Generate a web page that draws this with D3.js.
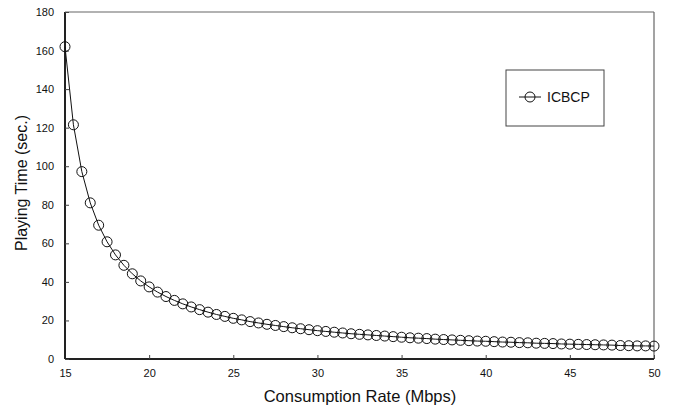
<!DOCTYPE html>
<html><head><meta charset="utf-8">
<script src="https://cdn.jsdelivr.net/npm/d3@7"></script>
<style>
body{margin:0;background:#fff;}
svg{display:block;}
text{font-family:"Liberation Sans","DejaVu Sans",sans-serif;fill:#111;}
</style></head>
<body><svg id="c" width="675" height="412"></svg>
<script>
const rates = [15,15.5,16,16.5,17,17.5,18,18.5,19,19.5,20,20.5,21,21.5,22,22.5,23,23.5,24,24.5,25,25.5,26,26.5,27,27.5,28,28.5,29,29.5,30,30.5,31,31.5,32,32.5,33,33.5,34,34.5,35,35.5,36,36.5,37,37.5,38,38.5,39,39.5,40,40.5,41,41.5,42,42.5,43,43.5,44,44.5,45,45.5,46,46.5,47,47.5,48,48.5,49,49.5,50];
const playTime = [162.0,121.5,97.2,81.0,69.4,60.8,54.0,48.6,44.2,40.5,37.4,34.7,32.4,30.4,28.6,27.0,25.6,24.3,23.1,22.1,21.1,20.3,19.4,18.7,18.0,17.4,16.8,16.2,15.7,15.2,14.7,14.3,13.9,13.5,13.1,12.8,12.5,12.2,11.9,11.6,11.3,11.0,10.8,10.6,10.3,10.1,9.9,9.7,9.5,9.3,9.2,9.0,8.8,8.7,8.5,8.4,8.2,8.1,8.0,7.8,7.7,7.6,7.5,7.4,7.3,7.2,7.0,6.9,6.8,6.8,6.7];
const xTicks = [15,20,25,30,35,40,45,50];
const yTicks = [0,20,40,60,80,100,120,140,160,180];
const seriesName = "ICBCP";

const svg = d3.select("#c");
const L=65, R=654, T=12, B=359;
const x = d3.scaleLinear().domain([15,50]).range([L,R]);
const y = d3.scaleLinear().domain([0,180]).range([B,T]);

// top & right frame
svg.append("line").attr("x1",L).attr("x2",R).attr("y1",T).attr("y2",T).attr("stroke","#666").attr("stroke-width",1.2);
svg.append("line").attr("x1",R).attr("x2",R).attr("y1",T).attr("y2",B).attr("stroke","#666").attr("stroke-width",1.2);

// axes
const xa = svg.append("g").attr("transform",`translate(0,${B})`)
  .call(d3.axisBottom(x).tickValues(xTicks).tickSize(-4).tickPadding(10).tickFormat(d3.format("d")));
const ya = svg.append("g").attr("transform",`translate(${L},0)`)
  .call(d3.axisLeft(y).tickValues(yTicks).tickSize(-4).tickPadding(11).tickFormat(d3.format("d")));
[xa,ya].forEach(g=>{
  g.select(".domain").attr("stroke","#222").attr("stroke-width",2);
  g.selectAll(".tick line").attr("stroke","#444");
  g.selectAll(".tick text").attr("font-size",11).attr("fill","#111")
    .attr("font-family","'Liberation Sans Narrow','Liberation Sans',sans-serif");
});
xa.select(".domain").attr("d",`M${L},0H${R}`);
ya.select(".domain").attr("d",`M0,${B}V${T}`);

// line + markers
const line = d3.line().x((d,i)=>x(rates[i])).y(d=>y(d));
svg.append("path").datum(playTime).attr("d",line).attr("fill","none").attr("stroke","#111").attr("stroke-width",1);
svg.append("g").selectAll("circle").data(playTime).join("circle")
  .attr("cx",(d,i)=>x(rates[i])).attr("cy",d=>y(d)).attr("r",5)
  .attr("fill","none").attr("stroke","#111").attr("stroke-width",1);

// axis titles
svg.append("text").attr("x",360).attr("y",402).attr("text-anchor","middle")
  .attr("font-size",16.5).text("Consumption Rate (Mbps)");
svg.append("text").attr("transform",`translate(27,183) rotate(-90)`).attr("text-anchor","middle")
  .attr("font-size",16).text("Playing Time (sec.)");

// legend
const lg = svg.append("g");
lg.append("rect").attr("x",506).attr("y",70).attr("width",98).attr("height",56)
  .attr("fill","#fff").attr("stroke","#444").attr("stroke-width",1);
lg.append("line").attr("x1",519).attr("x2",541).attr("y1",97).attr("y2",97).attr("stroke","#111");
lg.append("circle").attr("cx",530).attr("cy",97).attr("r",5).attr("fill","none").attr("stroke","#111");
lg.append("text").attr("x",547).attr("y",102).attr("font-size",14).text(seriesName);
</script></body></html>
